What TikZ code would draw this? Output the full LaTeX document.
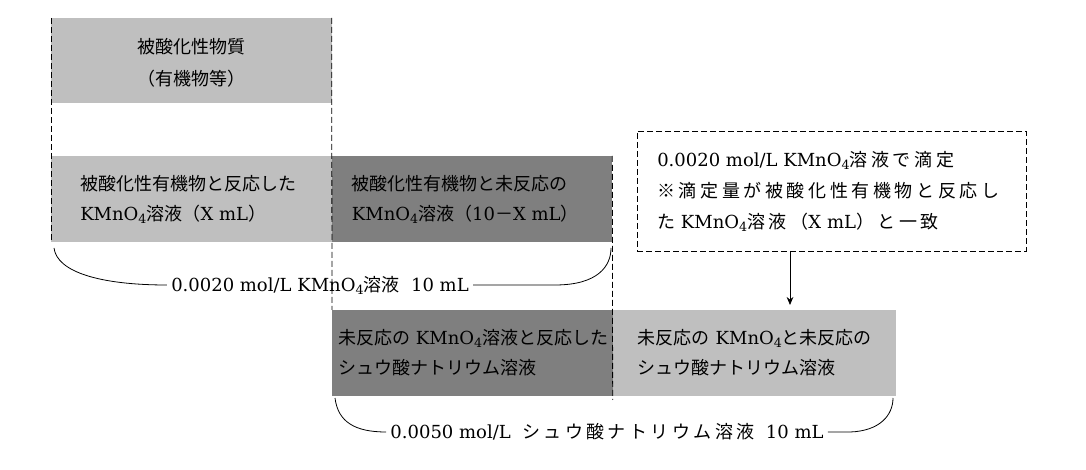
\documentclass[tikz,border=0pt]{standalone}
\usepackage{fontspec}
\setmainfont{DejaVu Serif}
\newfontfamily\jpfont{Noto Sans CJK JP}
\newcommand{\ja}[1]{{\jpfont #1}}
\newcommand{\jas}[2]{{\jpfont\addfontfeature{LetterSpace=#1}#2}}
\newcommand{\kmno}{KMnO\raisebox{-2.2pt}{\fontsize{9.5pt}{10pt}\selectfont 4}}
\usepackage{tikz}
\usetikzlibrary{positioning,calc,arrows.meta}
\definecolor{boxlight}{HTML}{BFBFBF}
\definecolor{boxdark}{HTML}{7F7F7F}

\begin{document}
\begin{tikzpicture}[x=0.75pt,y=-0.75pt,
  box/.style={inner sep=0, outer sep=0, minimum width=210.5pt, minimum height=64.5pt, anchor=north west},
  txt/.style={inner sep=0, align=left, font=\fontsize{13.5pt}{22.5pt}\selectfont},
  lbl/.style={inner xsep=3pt, inner ysep=0, font=\fontsize{13.5pt}{22.5pt}\selectfont},
  guide/.style={dash pattern=on 4.5pt off 2.25pt, line width=0.6pt},
  brace/.style={line width=0.6pt}]
\useasboundingbox (0,0) rectangle (1086,470);

\node[box, fill=boxlight, minimum height=63.75pt] (sub) at (51,18) {};
\node[box, fill=boxlight] (reacted) at (51,156) {};
\node[box, fill=boxdark] (unreacted) at (reacted.north east) {};
\node[box, fill=boxdark] (used) at (332,310) {};
\node[box, fill=boxlight, minimum width=212.25pt] (rest) at (used.north east) {};
\node[box, draw, guide, minimum width=291.75pt, minimum height=90pt] (note) at (637,131) {};

% dashed guides
\draw[guide] (sub.north west) -- (reacted.south west);
\draw[guide] (sub.north east) -- (used.north west);
\draw[guide] (unreacted.north east) -- ([yshift=-3pt]used.south east);

\node[txt, align=center, font=\fontsize{13.5pt}{24pt}\selectfont] (subtxt) at ([yshift=-2pt]sub.center)
  {\ja{被酸化性物質}\\\ja{（有機物等）}};
\node[txt, right=21.75pt of reacted.west] (reactedtxt)
  {\ja{被酸化性有機物と反応した}\\\kmno\ja{溶液（}X mL\ja{）}};
\node[txt, right=15pt of unreacted.west] (unreactedtxt)
  {\ja{被酸化性有機物と未反応の}\\\kmno\ja{溶液（}10\ja{－}X mL\ja{）}};
\node[txt, right=4.5pt of used.west] (usedtxt)
  {\ja{未反応の} \kmno\ja{溶液と反応した}\\\ja{シュウ酸ナトリウム溶液}};
\node[txt, right=18.75pt of rest.west] (resttxt)
  {\ja{未反応の} \kmno\ja{と未反応の}\\\ja{シュウ酸ナトリウム溶液}};
\node[txt, right=15pt of note.west, font=\fontsize{13.5pt}{23.25pt}\selectfont] (notetxt)
  {0.0020 mol/L \kmno\jas{20}{溶液で滴定}\\\jas{20}{※滴定量が被酸化性有機物と反応し}\\\jas{20}{た} \kmno\jas{20}{溶液（}X mL\jas{20}{）と一致}};

% total volumes
\coordinate (b1l) at (54,248);
\coordinate (b1r) at (611,248);
\node[lbl] (vol1) at (320,285) {0.0020 mol/L \kmno\ja{溶液}\ \ 10 mL};
\draw[brace] (b1l) .. controls (57,272) and (100,285) .. (vol1.west);
\draw[brace] (vol1.east) -- (555,285) .. controls (598,285) and (611,266) .. (b1r);

\coordinate (b2l) at (335,398);
\coordinate (b2r) at (893,398);
\node[lbl] (vol2) at (607,432) {0.0050 mol/L\ \ \jas{19}{シュウ酸ナトリウム溶液}\ \ 10 mL};
\draw[brace] (b2l) .. controls (338,422) and (355,432) .. (vol2.west);
\draw[brace] (vol2.east) -- (850,432) .. controls (880,431) and (893,415) .. (b2r);

\coordinate (ax) at (790,0);
\draw[-{Stealth[length=6pt,width=5pt]}, line width=0.6pt] (note.south -| ax) -- ([yshift=3.75pt]rest.north -| ax);
\end{tikzpicture}
\end{document}
